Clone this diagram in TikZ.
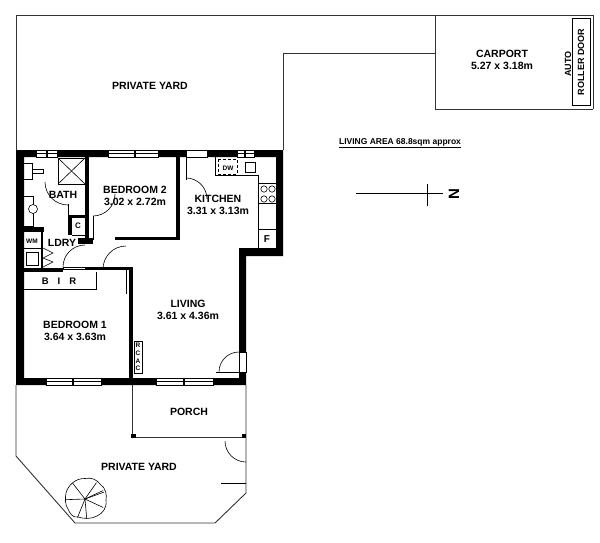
\documentclass[tikz,border=0pt]{standalone}
\usepackage{fontspec}
\setmainfont{Liberation Sans}
\usepackage{tikz}
\tikzset{
	wall/.style={fill=black, draw=none},
	thin line/.style={draw=black, line width=0.6pt},
	yard line/.style={draw=black!80, line width=0.9pt},
	win/.style={fill=white, draw=black, line width=0.4pt},
	room/.style={font=\bfseries\fontsize{10.5}{12.5}\selectfont, align=center},
	fix/.style={font=\bfseries\fontsize{8}{9}\selectfont, inner sep=0pt}
}
\begin{document}
\begin{tikzpicture}[x=1pt, y=-1pt]
	\useasboundingbox (0, 0) rectangle (600, 542);
	% yards
	\coordinate (y0) at (16, 15);
	\coordinate (y1) at (435, 15);
	\coordinate (y2) at (283, 53);
	\coordinate (y3) at (435, 53);
	\coordinate (y4) at (283, 150);
	\coordinate (y5) at (16, 150);
	\draw [yard line] (y5) to (y0);
	\draw [yard line] (y0) to (y1);
	\draw [yard line] (y4) to (y2);
	\draw [yard line] (y2) to (y3);
	\coordinate (c0) at (593, 15);
	\coordinate (c1) at (593, 109);
	\coordinate (c2) at (435, 109);
	\draw [yard line] (y1) to (c0);
	\draw [yard line] (c0) to (c1);
	\draw [yard line] (c1) to (c2);
	\draw [yard line] (c2) to (y1);
	\draw [thin line] (572, 18) rectangle (590, 105);
	\draw [yard line] (16, 385) -- (16, 456) -- (75, 523) -- (215, 523) -- (246, 493) -- (246, 385);
	% porch
	\draw [yard line] (132, 385) -- (132, 437) -- (246, 437);
	\fill (131, 434) rectangle (136, 438);
	\fill (242, 434) rectangle (246, 438);
	% yard gate
	\draw [thin line] (246, 483) -- (221, 483);
	\draw [thin line] (246, 462) arc (90:180:21);
	% outer walls
	\fill [wall] (16, 150) -- (283, 150) -- (283, 256) -- (246, 256) -- (246, 385) -- (16, 385) -- cycle
		(24, 157) -- (24, 378) -- (239, 378) -- (239, 248) -- (276, 248) -- (276, 157) -- cycle;
	% inner walls
	\fill [wall] (85, 157) rectangle (89, 243);
	\fill [wall] (176, 157) rectangle (180, 240);
	\fill [wall] (115, 237) rectangle (180, 240);
	\fill [wall] (78, 238) rectangle (93, 244);
	\fill [wall] (24, 227) rectangle (44, 232);
	\fill [wall] (41, 227) rectangle (43, 268);
	\fill [wall] (68, 215) rectangle (72, 235);
	\fill [wall] (68, 215) rectangle (85, 218);
	\fill [wall] (24, 268) rectangle (63, 272);
	\fill [wall] (85, 267) rectangle (133, 270);
	\fill [wall] (129, 270) rectangle (133, 378);
	% windows
	\foreach \xa/\xb/\xm in {36/57/47, 108/158/135, 237/254/245} {
		\filldraw [win] (\xa, 150) rectangle (\xb, 157);
		\draw [thin line] (\xa, 153.5) -- (\xb, 153.5);
		\draw [line width=1.2pt] (\xm, 150) -- (\xm, 157);
	}
	\foreach \xa/\xb/\xm in {46/101/73, 156/213/184} {
		\filldraw [win] (\xa, 378) rectangle (\xb, 385);
		\draw [thin line] (\xa, 381.5) -- (\xb, 381.5);
		\draw [line width=1.2pt] (\xm, 378) -- (\xm, 385);
	}
	% doors
	\fill [white] (186, 150.5) rectangle (207, 156.5);
	\draw [thin line] (186, 150) rectangle (207, 157);
	\draw [thin line] (186, 157) -- (186, 180);
	\draw [thin line] (186, 178) arc (270:360:21);
	\fill [white] (239.5, 352) rectangle (245.5, 372);
	\draw [thin line] (239, 352) rectangle (246, 372);
	\draw [thin line] (239, 372) -- (216, 372);
	\draw [thin line] (219, 372) arc (180:270:20);
	\draw [thin line] (93, 216) -- (93, 240);
	\draw [thin line] (93, 216) arc (90:0:22);
	\draw [thin line] (68, 204) -- (68, 228);
	\draw [thin line] (68, 205) arc (90:180:23);
	\draw [thin line] (63, 267) arc (180:270:22);
	\draw [thin line] (63, 267) rectangle (85, 269);
	\draw [thin line] (126, 268) -- (126, 294);
	\draw [thin line] (103, 269) arc (180:270:23);
	% bath fixtures
	\draw [thin line] (58, 158) rectangle (85, 184);
	\draw [thin line] (58, 158) -- (85, 184);
	\draw [thin line] (58, 184) -- (85, 158);
	\draw [thin line] (24, 163) -- (32, 163) -- (32, 179) -- (24, 179);
	\draw [thin line] (32, 169) rectangle (43, 173);
	\draw [thin line] (24, 196) -- (33, 196) -- (33, 226) -- (24, 226);
	\filldraw [fill=white, thin line] (33, 209) circle (4.5);
	\node [fix] (cup) at (78, 226) {C};
	\draw [thin line] (72, 235) -- (85, 235);
	% laundry fixtures
	\node [fix, font=\bfseries\fontsize{6.5}{8}\selectfont] (wm) at (32, 241) {WM};
	\draw [thin line] (24, 248) -- (41, 248);
	\draw [thin line] (26, 252) rectangle (38, 265);
	\draw [thin line] (43, 248) -- (53, 253) -- (43, 258) -- (53, 262) -- (43, 267);
	% bir
	\draw [thin line] (24, 289) -- (96, 289) -- (96, 272);
	\node [fix, font=\bfseries\fontsize{9.5}{11}\selectfont] (bir) at (59, 281) {B\hspace{9pt}I\hspace{9pt}R};
	% kitchen fixtures
	\draw [thin line] (215, 157) -- (215, 175) -- (258, 175) -- (258, 248);
	\draw [thin line, densely dashed] (218, 159) rectangle (237, 174);
	\node [fix, font=\bfseries\fontsize{6.5}{8}\selectfont] (dw) at (228, 168) {DW};
	\draw [thin line] (245, 162) rectangle (255, 172);
	\draw [thin line] (258, 183) -- (276, 183);
	\draw [thin line] (258, 203) -- (276, 203);
	\foreach \cx in {264, 272} {
		\foreach \cy in {189, 199} {
			\draw [thin line] (\cx, \cy) circle (3.2);
		}
	}
	\draw [thin line] (258, 229) -- (276, 229);
	\node [fix, font=\bfseries\fontsize{10}{12}\selectfont] (f) at (267, 239) {F};
	% rcac
	\draw [thin line] (134, 341) rectangle (142, 373);
	\node [fix, font=\bfseries\fontsize{6.5}{7.6}\selectfont, align=center] (rcac) at (138, 357) {R\\C\\A\\C};
	% tree
	\coordinate (tree) at (85, 499);
	\draw [thin line] (85, 478.5) .. controls (92, 477) and (97, 480) .. (100, 484) .. controls (106, 488) and (107, 495) .. (106, 500) .. controls (107, 508) and (103, 513) .. (97, 516) .. controls (92, 519) and (84, 519) .. (78, 517) .. controls (72, 518) and (70, 513) .. (68, 509) .. controls (65, 505) and (65, 498) .. (66, 493) .. controls (68, 485) and (76, 478) .. (85, 478.5);
	\foreach \ang in {-20, 25, 85, 112, 178, 232, 305, 335} {
		\draw [thin line] (tree) -- ++(\ang:20);
	}
	% labels
	\node [room] (yard1) at (150, 86) {PRIVATE YARD};
	\node [room] (yard2) at (139, 467) {PRIVATE YARD};
	\node [room] (carport) at (502, 60) {CARPORT\\5.27 x 3.18m};
	\node [room] (bath) at (63, 195) {BATH};
	\node [room] (bed2) at (135, 196) {BEDROOM 2\\3.02 x 2.72m};
	\node [room] (kitchen) at (218, 205) {KITCHEN\\3.31 x 3.13m};
	\node [room] (ldry) at (62, 243) {LDRY};
	\node [room] (living) at (188, 310) {LIVING\\3.61 x 4.36m};
	\node [room] (bed1) at (75, 331) {BEDROOM 1\\3.64 x 3.63m};
	\node [room] (porch) at (189, 412) {PORCH};
	\node [fix, font=\bfseries\fontsize{8.5}{10}\selectfont] (area) at (400, 143) {\underline{LIVING AREA 68.8sqm approx}};
	\node [fix, font=\bfseries\fontsize{9}{10}\selectfont, rotate=90] (auto) at (568, 64) {AUTO};
	\node [fix, font=\bfseries\fontsize{9}{10}\selectfont, rotate=90] (roller) at (581, 62) {ROLLER DOOR};
	% north
	\coordinate (n0) at (356, 193);
	\coordinate (n1) at (443, 193);
	\coordinate (n2) at (427, 184);
	\coordinate (n3) at (427, 206);
	\draw [thin line] (n0) to (n1);
	\draw [thin line] (n2) to (n3);
	\node [font=\bfseries\fontsize{15}{15}\selectfont, rotate=90, inner sep=0pt] (north) at (454, 194) {N};
\end{tikzpicture}
\end{document}
